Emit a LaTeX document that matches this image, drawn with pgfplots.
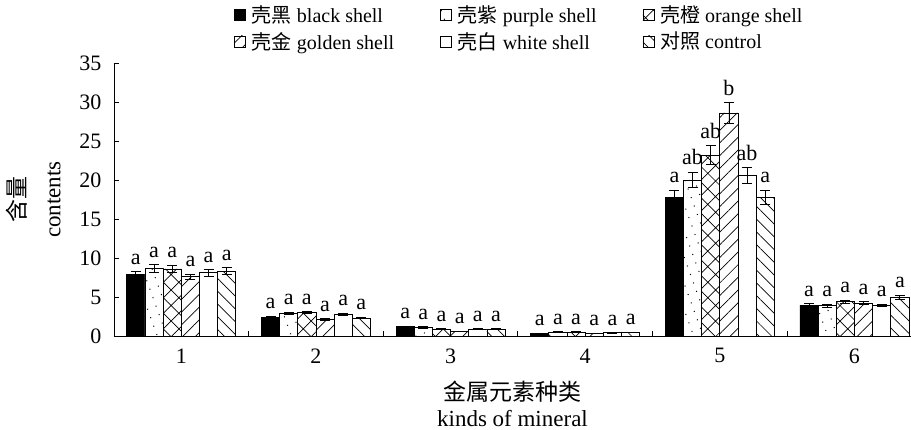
\documentclass[border=0pt]{standalone}
\usepackage{fontspec}
\setmainfont{Liberation Serif}
\newfontfamily\cjk{Noto Sans CJK SC}
\usepackage{pgfplots}
\pgfplotsset{compat=1.18}
\usepackage{pgfplotstable}
\usetikzlibrary{patterns.meta}

\pgfplotstableread{
x y e l
1 7.9 0.35 a
2 2.4 0.12 a
3 1.2 0.08 a
4 0.35 0.04 a
5 17.8 0.9 a
6 3.95 0.2 a
}\tblack
\pgfplotstableread{
x y e l
1 8.65 0.5 a
2 2.9 0.15 a
3 1.1 0.08 a
4 0.5 0.04 a
5 20.0 1.0 ab
6 3.9 0.2 a
}\tpurple
\pgfplotstableread{
x y e l
1 8.6 0.5 a
2 3.0 0.15 a
3 0.9 0.05 a
4 0.5 0.04 a
5 23.2 1.2 ab
6 4.4 0.2 a
}\torange
\pgfplotstableread{
x y e l
1 7.6 0.35 a
2 2.1 0.1 a
3 0.6 0.05 a
4 0.35 0.04 a
5 28.6 1.3 b
6 4.2 0.2 a
}\tgolden
\pgfplotstableread{
x y e l
1 8.1 0.4 a
2 2.8 0.15 a
3 0.9 0.05 a
4 0.4 0.04 a
5 20.6 1.0 ab
6 3.9 0.15 a
}\twhite
\pgfplotstableread{
x y e l
1 8.3 0.45 a
2 2.3 0.1 a
3 0.9 0.05 a
4 0.45 0.04 a
5 17.8 0.9 a
6 5.0 0.25 a
}\tcontrol

\pgfplotsset{
  mybar/.style={draw=black, line width=0.8pt,
    error bars/.cd, y dir=both, y explicit,
    error bar style={line width=0.8pt, black, solid},
    error mark options={rotate=90, mark size=5pt, line width=0.8pt, black},
    /pgfplots/.cd,
    legend image code/.code={\draw[##1, line width=0.6pt] (0pt,-5.5pt) rectangle (11pt,5.5pt);}
  },
  lab/.style={draw=none, fill=none, forget plot,
    nodes near coords={\fontsize{22}{26}\selectfont\pgfplotspointmeta},
    point meta=explicit symbolic,
    nodes near coords style={anchor=south, inner sep=1pt, yshift=6pt}}
}

\begin{document}
\begin{tikzpicture}[font=\fontsize{20}{24}\selectfont]
\begin{axis}[name=ax, scale only axis, width=797pt, height=273pt,
  ybar, bar width=0.135,
  xmin=0.5, xmax=6.42, ymin=0, ymax=35,
  axis x line*=bottom, axis y line*=left,
  axis line style={line width=0.8pt},
  tick align=inside, major tick length=5pt,
  tick style={line width=0.8pt, black},
  ytick={0,5,...,35},
  xtick={1.5,2.5,3.5,4.5,5.5}, xticklabels={,,,,,},
  extra x ticks={1,2,3,4,5,6}, extra x tick labels={1,2,3,4,5,6},
  extra x tick style={tick style={draw=none}},
  /pgf/number format/assume math mode=true,
  ticklabel style={font=\fontsize{22}{26}\selectfont},
  yticklabel style={xshift=-9pt},
  xticklabel style={yshift=-9pt},
  xlabel={{\cjk 金属元素种类}\\[-1pt]kinds of mineral},
  xlabel style={align=center, yshift=-11pt, font=\fontsize{23}{27}\selectfont},
  ylabel={{\cjk 含量}\\[8pt]contents},
  ylabel style={align=center, font=\fontsize{23}{27}\selectfont, yshift=12pt},
  legend style={at={(0.147,1.225)}, anchor=north west, draw=none, fill=none,
    legend columns=3, font=\fontsize{20}{24}\selectfont,
    /tikz/every even column/.append style={column sep=44pt},
    /tikz/every odd column/.append style={column sep=4pt},
    row sep=4pt},
  legend cell align=left,
]
\addplot[mybar, bar shift=-0.3375, fill=black] table[x=x,y=y,y error=e] {\tblack};
\addlegendentry{{\cjk 壳黑} black shell}
\addplot[mybar, bar shift=-0.2025, fill=white, postaction={pattern={Dots[distance=9pt, radius=0.7pt, angle=20]}}] table[x=x,y=y,y error=e] {\tpurple};
\addlegendentry{{\cjk 壳紫} purple shell}
\addplot[mybar, bar shift=-0.0675, fill=white, postaction={pattern={Hatch[distance=11pt, angle=45, line width=0.7pt]}}] table[x=x,y=y,y error=e] {\torange};
\addlegendentry{{\cjk 壳橙} orange shell}
\addplot[mybar, bar shift=0.0675, fill=white, postaction={pattern={Lines[distance=9pt, angle=45, line width=0.7pt]}}] table[x=x,y=y,y error=e] {\tgolden};
\addlegendentry{{\cjk 壳金} golden shell}
\addplot[mybar, bar shift=0.2025, fill=white] table[x=x,y=y,y error=e] {\twhite};
\addlegendentry{{\cjk 壳白} white shell}
\addplot[mybar, bar shift=0.3375, fill=white, postaction={pattern={Lines[distance=9pt, angle=-45, line width=0.7pt]}}] table[x=x,y=y,y error=e] {\tcontrol};
\addlegendentry{{\cjk 对照} control}

\addplot[lab, bar shift=-0.3375] table[x=x, y expr=\thisrow{y}+\thisrow{e}, meta=l] {\tblack};
\addplot[lab, bar shift=-0.2025] table[x=x, y expr=\thisrow{y}+\thisrow{e}, meta=l] {\tpurple};
\addplot[lab, bar shift=-0.0675] table[x=x, y expr=\thisrow{y}+\thisrow{e}, meta=l] {\torange};
\addplot[lab, bar shift=0.0675] table[x=x, y expr=\thisrow{y}+\thisrow{e}, meta=l] {\tgolden};
\addplot[lab, bar shift=0.2025] table[x=x, y expr=\thisrow{y}+\thisrow{e}, meta=l] {\twhite};
\addplot[lab, bar shift=0.3375] table[x=x, y expr=\thisrow{y}+\thisrow{e}, meta=l] {\tcontrol};
\end{axis}
\pgfresetboundingbox
\path ([xshift=-114pt,yshift=-94pt]ax.south west) rectangle ([yshift=63pt]ax.north east);
\end{tikzpicture}
\end{document}
